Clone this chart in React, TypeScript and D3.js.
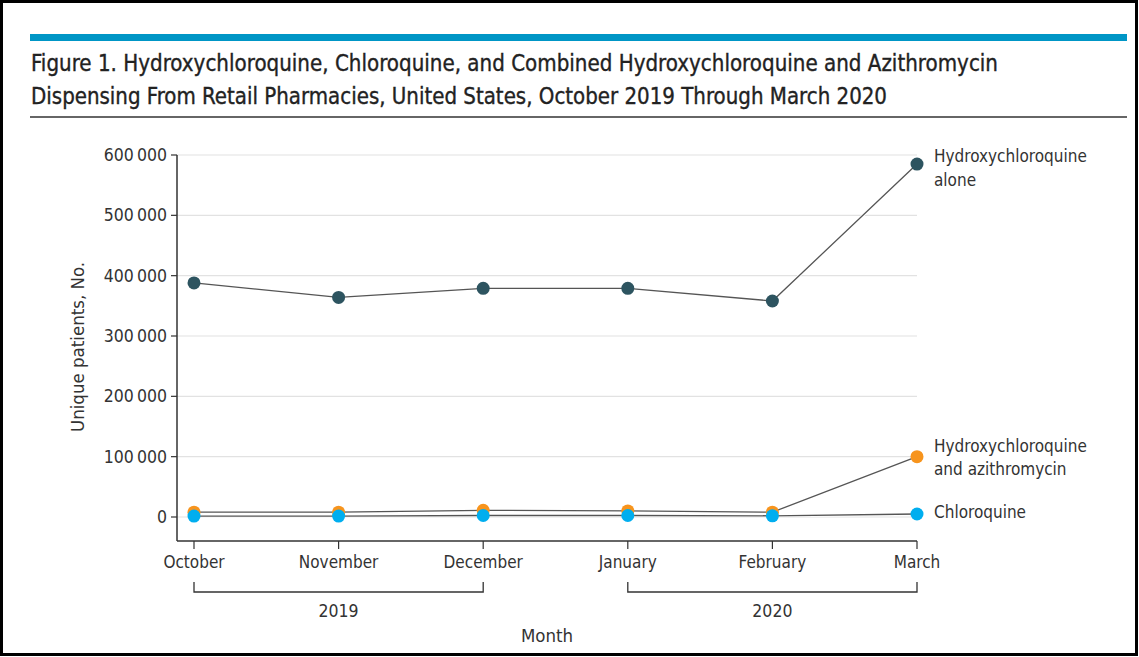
import React from "react";
import * as d3 from "d3";

const months = ["October", "November", "December", "January", "February", "March"];
const hcqAlone = [388000, 364000, 379000, 379000, 358000, 585000];
const hcqAzithro = [8000, 8000, 11000, 10000, 8000, 100000];
const chloroquine = [1500, 1500, 2500, 2500, 2000, 5000];
const yTicks = [0, 100000, 200000, 300000, 400000, 500000, 600000];
const years = [
  { label: "2019", from: "October", to: "December" },
  { label: "2020", from: "January", to: "March" },
];
const seriesNames = [
  ["Hydroxychloroquine", "alone"],
  ["Hydroxychloroquine", "and azithromycin"],
  ["Chloroquine"],
];

const FONT = "'Liberation Sans Narrow', 'DejaVu Sans Condensed', 'Roboto', sans-serif";

export default function App() {
  const W = 1139, H = 657;
  const x = d3.scalePoint<string>().domain(months).range([194, 917]);
  const y = d3.scaleLinear().domain([0, 600000]).range([517, 155]);
  const fmt = (v: number) => d3.format(",")(v).replace(/,/g, "\u2009");

  const series = [
    { vals: hcqAlone, color: "#2d5460", names: seriesNames[0], ly: [162, 186] },
    { vals: hcqAzithro, color: "#f7941d", names: seriesNames[1], ly: [452, 475] },
    { vals: chloroquine, color: "#00aeef", names: seriesNames[2], ly: [518] },
  ];
  const line = d3
    .line<number>()
    .x((_, i) => x(months[i])!)
    .y((d) => y(d));

  const axisColor = "#333";
  const textColor = "#333";

  return (
    <svg
      width={W}
      height={H}
      style={{ position: "absolute", left: 0, top: 0, background: "#fff" }}
      fontFamily={FONT}
    >
      <rect x={0} y={0} width={W} height={H} fill="#fff" />
      <rect x={1.5} y={1.5} width={W - 4} height={H - 4} fill="none" stroke="#000" strokeWidth={3} />
      <rect x={30} y={34} width={1097} height={7} fill="#0096c6" />
      <g fill="#222" stroke="#222" strokeWidth={0.35}>
        <text x={31} y={71} fontSize={23} textLength={967} lengthAdjust="spacingAndGlyphs">
          Figure 1. Hydroxychloroquine, Chloroquine, and Combined Hydroxychloroquine and Azithromycin
        </text>
        <text x={31} y={104} fontSize={23} textLength={856} lengthAdjust="spacingAndGlyphs">
          Dispensing From Retail Pharmacies, United States, October 2019 Through March 2020
        </text>
      </g>
      <line x1={30} x2={1127} y1={117} y2={117} stroke="#666" strokeWidth={2} />

      {/* gridlines */}
      {yTicks.map((t) => (
        <line key={"g" + t} x1={177} x2={917} y1={y(t)} y2={y(t)} stroke="#e2e2e2" strokeWidth={1.2} />
      ))}
      {/* y axis */}
      <line x1={177} x2={177} y1={155} y2={541} stroke={axisColor} strokeWidth={1.5} />
      {yTicks.map((t) => (
        <g key={"t" + t}>
          <line x1={171} x2={177} y1={y(t)} y2={y(t)} stroke={axisColor} strokeWidth={1.2} />
          <text x={167} y={y(t) + 6} fontSize={17.5} textAnchor="end" fill={textColor}>
            {fmt(t)}
          </text>
        </g>
      ))}
      <text
        transform={`translate(84,347) rotate(-90)`}
        fontSize={18.5}
        textAnchor="middle"
        fill={textColor}
      >
        Unique patients, No.
      </text>

      {/* x axis */}
      <line x1={177} x2={917} y1={541} y2={541} stroke={axisColor} strokeWidth={1.5} />
      {months.map((m) => (
        <g key={m}>
          <line x1={x(m)} x2={x(m)} y1={541} y2={549} stroke={axisColor} strokeWidth={1.2} />
          <text x={x(m)} y={568} fontSize={17} textAnchor="middle" fill={textColor}>
            {m}
          </text>
        </g>
      ))}
      {years.map((yr) => {
        const a = x(yr.from)!, b = x(yr.to)!;
        return (
          <g key={yr.label}>
            <path
              d={`M${a},582 V592 H${b} V582`}
              fill="none"
              stroke={axisColor}
              strokeWidth={1.3}
            />
            <text x={(a + b) / 2} y={617} fontSize={17.5} textAnchor="middle" fill={textColor}>
              {yr.label}
            </text>
          </g>
        );
      })}
      <text x={547} y={642} fontSize={18.5} textAnchor="middle" fill={textColor}>
        Month
      </text>

      {/* lines */}
      {series.map((s, i) => (
        <g key={"l" + i}>
          <path d={line(s.vals)!} fill="none" stroke="#fff" strokeWidth={3} />
          <path d={line(s.vals)!} fill="none" stroke="#555" strokeWidth={1.3} />
        </g>
      ))}
      {series.map((s, i) => (
        <g key={"p" + i}>
          {s.vals.map((v, j) => (
            <circle key={j} cx={x(months[j])} cy={y(v)} r={6.5} fill={s.color} />
          ))}
        </g>
      ))}
      {series.map((s, i) => (
        <g key={"n" + i}>
          {s.names.map((n, k) => (
            <text key={k} x={934} y={s.ly[k]} fontSize={17} fill={textColor}>
              {n}
            </text>
          ))}
        </g>
      ))}
    </svg>
  );
}
